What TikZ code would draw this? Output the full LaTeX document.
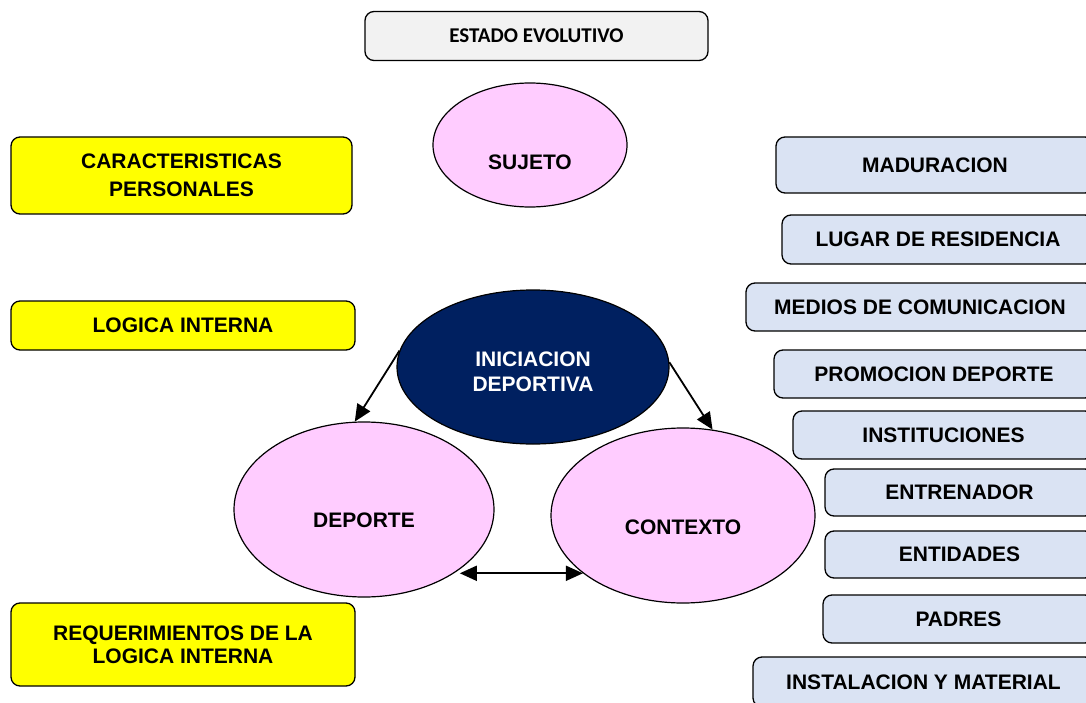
\documentclass[tikz,border=0pt]{standalone}
\usepackage{fontspec}
\setmainfont{Liberation Sans}
\newfontfamily\calibri{Carlito}
\usetikzlibrary{shapes.geometric,arrows.meta}
\definecolor{amarillo}{HTML}{FFFF00}
\definecolor{rosa}{HTML}{FFCCFF}
\definecolor{azul}{HTML}{002060}
\definecolor{celeste}{HTML}{DAE3F3}
\definecolor{gris}{HTML}{F2F2F2}
\begin{document}
\begin{tikzpicture}[x=1pt,y=-1pt,
  caja/.style={draw,line width=1.3pt,rounded corners=9pt,inner sep=0pt,align=center,
    font=\bfseries\fontsize{21}{25}\selectfont},
  amarilla/.style={caja,fill=amarillo},
  azulada/.style={caja,fill=celeste},
  elipse/.style={draw,ellipse,line width=1.2pt,inner sep=0pt},
  texto/.style={align=center,font=\bfseries\fontsize{21}{25}\selectfont},
  punta/.tip={Triangle[length=17pt,width=15pt]},
  flecha/.style={line width=1.8pt,-punta}]
  \clip (0,0) rectangle (1086,703);
  % arriba
  \node [caja,fill=gris,minimum width=343pt,minimum height=49pt,
    font=\calibri\bfseries\fontsize{21}{25}\selectfont] (estado) at (536.5,36) {ESTADO EVOLUTIVO};
  \node [elipse,fill=rosa,minimum width=194pt,minimum height=124pt] (sujeto) at (530,145) {};
  \node [texto] (sujetotxt) at (530,162) {SUJETO};
  % izquierda
  \node [amarilla,minimum width=341pt,minimum height=77pt,
    font=\bfseries\fontsize{21}{28}\selectfont] (caract) at (181.5,175.5) {CARACTERISTICAS\\PERSONALES};
  \node [amarilla,minimum width=344pt,minimum height=49pt] (logica) at (183,325.5) {LOGICA INTERNA};
  \node [amarilla,minimum width=344pt,minimum height=83pt,
    font=\bfseries\fontsize{21}{23}\selectfont] (requer) at (183,644.5) {REQUERIMIENTOS DE LA\\LOGICA INTERNA};
  % centro
  \node [elipse,fill=azul,minimum width=272pt,minimum height=154pt] (inicia) at (533,367) {};
  \node [texto,text=white] (iniciatxt) at (533,372) {INICIACION\\DEPORTIVA};
  \node [elipse,fill=rosa,minimum width=260pt,minimum height=175pt] (deporte) at (364,509.5) {};
  \node [texto] (deportetxt) at (364,520) {DEPORTE};
  \node [elipse,fill=rosa,minimum width=264pt,minimum height=175pt] (contexto) at (683,515.5) {};
  \node [texto] (contextotxt) at (683,527) {CONTEXTO};
  \draw [flecha] (inicia.173) -- (deporte.96);
  \draw [flecha] (inicia.2) -- (contexto.71);
  \draw [flecha,punta-punta] (deporte.-32 |- contexto.210) -- (contexto.210);
  % derecha
  \node [azulada,minimum width=318pt,minimum height=56pt] (madur) at (935,165) {MADURACION};
  \node [azulada,minimum width=312pt,minimum height=49pt] (lugar) at (938,239.5) {LUGAR DE RESIDENCIA};
  \node [azulada,minimum width=348pt,minimum height=48pt] (medios) at (920,307) {MEDIOS DE COMUNICACION};
  \node [azulada,minimum width=320pt,minimum height=48pt] (promo) at (934,374) {PROMOCION DEPORTE};
  \node [azulada,minimum width=301pt,minimum height=48pt] (instit) at (943.5,435) {INSTITUCIONES};
  \node [azulada,minimum width=269pt,minimum height=47pt] (entren) at (959.5,492.5) {ENTRENADOR};
  \node [azulada,minimum width=269pt,minimum height=47pt] (entid) at (959.5,554.5) {ENTIDADES};
  \node [azulada,minimum width=271pt,minimum height=48pt] (padres) at (958.5,619) {PADRES};
  \node [azulada,minimum width=341pt,minimum height=50pt] (instal) at (923.5,682) {INSTALACION Y MATERIAL};
\end{tikzpicture}
\end{document}
